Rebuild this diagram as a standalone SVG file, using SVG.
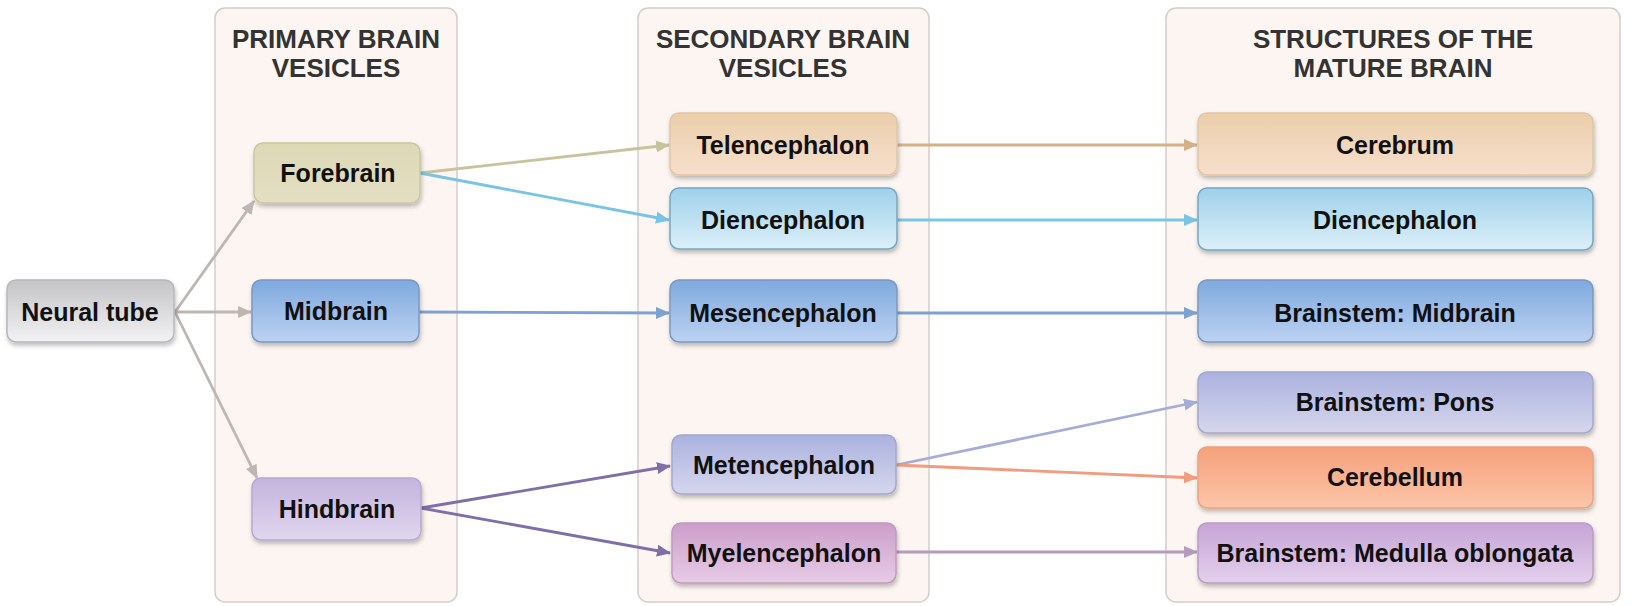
<svg xmlns="http://www.w3.org/2000/svg" width="1643" height="606" viewBox="0 0 1643 606">
<style>
.panel{fill:#fcf5f1;stroke:#d4ceca;stroke-width:1.5}
.title{font-family:"Liberation Sans",Arial,sans-serif;font-weight:bold;font-size:26px;fill:#333;text-anchor:middle}
.lbl{font-family:"Liberation Sans",Arial,sans-serif;font-weight:bold;font-size:25px;fill:#111;text-anchor:middle}
.node rect{stroke-width:1.5;filter:url(#sh)}
.c{fill:none;stroke-width:2.8}
</style>
<defs>
<filter id="sh" x="-10%" y="-20%" width="120%" height="150%"><feDropShadow dx="1" dy="3" stdDeviation="2" flood-color="#000" flood-opacity="0.25"/></filter>
<linearGradient id="gGray" x1="0" y1="0" x2="0" y2="1"><stop offset="0" stop-color="#c4c3c6"/><stop offset="1" stop-color="#f2f2f4"/></linearGradient>
<linearGradient id="gFore" x1="0" y1="0" x2="0" y2="1"><stop offset="0" stop-color="#ddd8b4"/><stop offset="1" stop-color="#e4dfc4"/></linearGradient>
<linearGradient id="gTel" x1="0" y1="0" x2="0" y2="1"><stop offset="0" stop-color="#ebcfac"/><stop offset="1" stop-color="#f6dfcc"/></linearGradient>
<linearGradient id="gDi" x1="0" y1="0" x2="0" y2="1"><stop offset="0" stop-color="#9fd0ea"/><stop offset="1" stop-color="#dcf0f9"/></linearGradient>
<linearGradient id="gMid" x1="0" y1="0" x2="0" y2="1"><stop offset="0" stop-color="#7fa9de"/><stop offset="1" stop-color="#bcd2f2"/></linearGradient>
<linearGradient id="gHind" x1="0" y1="0" x2="0" y2="1"><stop offset="0" stop-color="#c4b4de"/><stop offset="1" stop-color="#e0d6ee"/></linearGradient>
<linearGradient id="gMet" x1="0" y1="0" x2="0" y2="1"><stop offset="0" stop-color="#abb2e0"/><stop offset="1" stop-color="#d6d6ec"/></linearGradient>
<linearGradient id="gCbl" x1="0" y1="0" x2="0" y2="1"><stop offset="0" stop-color="#f5a07c"/><stop offset="1" stop-color="#fcc6a8"/></linearGradient>
<linearGradient id="gMye" x1="0" y1="0" x2="0" y2="1"><stop offset="0" stop-color="#cc9ecb"/><stop offset="1" stop-color="#e8cbe6"/></linearGradient>
<linearGradient id="gMed" x1="0" y1="0" x2="0" y2="1"><stop offset="0" stop-color="#c6a4d6"/><stop offset="1" stop-color="#e4d0ec"/></linearGradient>
<marker id="aGray" viewBox="0 0 14 12" refX="13" refY="6" markerWidth="14" markerHeight="12" markerUnits="userSpaceOnUse" orient="auto"><path d="M0,0 L14,6 L0,12 Z" fill="#bdb6b2"/></marker>
<marker id="aTan" viewBox="0 0 14 12" refX="13" refY="6" markerWidth="14" markerHeight="12" markerUnits="userSpaceOnUse" orient="auto"><path d="M0,0 L14,6 L0,12 Z" fill="#c8c39c"/></marker>
<marker id="aLb" viewBox="0 0 14 12" refX="13" refY="6" markerWidth="14" markerHeight="12" markerUnits="userSpaceOnUse" orient="auto"><path d="M0,0 L14,6 L0,12 Z" fill="#78c4e6"/></marker>
<marker id="aBl" viewBox="0 0 14 12" refX="13" refY="6" markerWidth="14" markerHeight="12" markerUnits="userSpaceOnUse" orient="auto"><path d="M0,0 L14,6 L0,12 Z" fill="#7ba2d2"/></marker>
<marker id="aPu" viewBox="0 0 14 12" refX="13" refY="6" markerWidth="14" markerHeight="12" markerUnits="userSpaceOnUse" orient="auto"><path d="M0,0 L14,6 L0,12 Z" fill="#7e6fa8"/></marker>
<marker id="aTan2" viewBox="0 0 14 12" refX="13" refY="6" markerWidth="14" markerHeight="12" markerUnits="userSpaceOnUse" orient="auto"><path d="M0,0 L14,6 L0,12 Z" fill="#d2b286"/></marker>
<marker id="aLav" viewBox="0 0 14 12" refX="13" refY="6" markerWidth="14" markerHeight="12" markerUnits="userSpaceOnUse" orient="auto"><path d="M0,0 L14,6 L0,12 Z" fill="#a4acd8"/></marker>
<marker id="aSal" viewBox="0 0 14 12" refX="13" refY="6" markerWidth="14" markerHeight="12" markerUnits="userSpaceOnUse" orient="auto"><path d="M0,0 L14,6 L0,12 Z" fill="#f09c7e"/></marker>
<marker id="aMau" viewBox="0 0 14 12" refX="13" refY="6" markerWidth="14" markerHeight="12" markerUnits="userSpaceOnUse" orient="auto"><path d="M0,0 L14,6 L0,12 Z" fill="#b49cc0"/></marker>
</defs>
<rect width="1643" height="606" fill="#ffffff"/>

<g id="panel-primary">
<rect class="panel" x="215" y="8" width="242" height="594" rx="10"/>
<text class="title" x="336" y="48">PRIMARY BRAIN</text>
<text class="title" x="336" y="77">VESICLES</text>
</g>
<g id="panel-secondary">
<rect class="panel" x="638" y="8" width="291" height="594" rx="10"/>
<text class="title" x="783" y="48">SECONDARY BRAIN</text>
<text class="title" x="783" y="77">VESICLES</text>
</g>
<g id="panel-mature">
<rect class="panel" x="1166" y="8" width="454" height="594" rx="10"/>
<text class="title" x="1393" y="48">STRUCTURES OF THE</text>
<text class="title" x="1393" y="77">MATURE BRAIN</text>
</g>

<g id="connectors">
<line class="c" x1="175" y1="312" x2="254" y2="201" stroke="#bdb6b2" marker-end="url(#aGray)"/>
<line class="c" x1="175" y1="312" x2="251" y2="312" stroke="#bdb6b2" marker-end="url(#aGray)"/>
<line class="c" x1="175" y1="312" x2="257" y2="478" stroke="#bdb6b2" marker-end="url(#aGray)"/>
<line class="c" x1="420" y1="173" x2="669" y2="145" stroke="#c8c39c" marker-end="url(#aTan)"/>
<line class="c" x1="420" y1="173" x2="669" y2="220" stroke="#78c4e6" marker-end="url(#aLb)"/>
<line class="c" x1="419" y1="312" x2="669" y2="313" stroke="#7ba2d2" marker-end="url(#aBl)"/>
<line class="c" x1="421" y1="508" x2="670" y2="466" stroke="#7e6fa8" marker-end="url(#aPu)"/>
<line class="c" x1="421" y1="508" x2="670" y2="553" stroke="#7e6fa8" marker-end="url(#aPu)"/>
<line class="c" x1="897" y1="145" x2="1197" y2="145" stroke="#d2b286" marker-end="url(#aTan2)"/>
<line class="c" x1="897" y1="220" x2="1197" y2="220" stroke="#78c8e2" marker-end="url(#aLb)"/>
<line class="c" x1="897" y1="313" x2="1197" y2="313" stroke="#7ba2d2" marker-end="url(#aBl)"/>
<line class="c" x1="896" y1="465" x2="1197" y2="402" stroke="#a4acd8" marker-end="url(#aLav)"/>
<line class="c" x1="896" y1="465" x2="1197" y2="478" stroke="#f09c7e" marker-end="url(#aSal)"/>
<line class="c" x1="896" y1="552" x2="1197" y2="552" stroke="#b49cc0" marker-end="url(#aMau)"/>
</g>

<g id="n-neural-tube" class="node">
<rect x="7" y="280" width="167" height="62" rx="9" fill="url(#gGray)" stroke="#b8b6ba"/>
<text class="lbl" x="90" y="321">Neural tube</text>
</g>
<g id="n-forebrain" class="node">
<rect x="254" y="143" width="166" height="60" rx="9" fill="url(#gFore)" stroke="#ccc6a2"/>
<text class="lbl" x="338" y="182">Forebrain</text>
</g>
<g id="n-midbrain" class="node">
<rect x="252" y="280" width="167" height="62" rx="9" fill="url(#gMid)" stroke="#7a98c4"/>
<text class="lbl" x="336" y="320">Midbrain</text>
</g>
<g id="n-hindbrain" class="node">
<rect x="252" y="478" width="169" height="62" rx="9" fill="url(#gHind)" stroke="#b8a8d2"/>
<text class="lbl" x="337" y="518">Hindbrain</text>
</g>

<g id="n-telencephalon" class="node">
<rect x="670" y="113" width="227" height="62" rx="9" fill="url(#gTel)" stroke="#e2c6a4"/>
<text class="lbl" x="783" y="154">Telencephalon</text>
</g>
<g id="n-diencephalon-2" class="node">
<rect x="670" y="188" width="227" height="61" rx="9" fill="url(#gDi)" stroke="#72a8c6"/>
<text class="lbl" x="783" y="229">Diencephalon</text>
</g>
<g id="n-mesencephalon" class="node">
<rect x="670" y="280" width="227" height="62" rx="9" fill="url(#gMid)" stroke="#7a98c4"/>
<text class="lbl" x="783" y="322">Mesencephalon</text>
</g>
<g id="n-metencephalon" class="node">
<rect x="672" y="435" width="224" height="59" rx="9" fill="url(#gMet)" stroke="#a4a8cc"/>
<text class="lbl" x="784" y="474">Metencephalon</text>
</g>
<g id="n-myelencephalon" class="node">
<rect x="672" y="523" width="224" height="60" rx="9" fill="url(#gMye)" stroke="#c09abd"/>
<text class="lbl" x="784" y="562">Myelencephalon</text>
</g>

<g id="n-cerebrum" class="node">
<rect x="1198" y="113" width="395" height="62" rx="9" fill="url(#gTel)" stroke="#e2c6a4"/>
<text class="lbl" x="1395" y="154">Cerebrum</text>
</g>
<g id="n-diencephalon-3" class="node">
<rect x="1198" y="188" width="395" height="62" rx="9" fill="url(#gDi)" stroke="#72a8c6"/>
<text class="lbl" x="1395" y="229">Diencephalon</text>
</g>
<g id="n-brainstem-midbrain" class="node">
<rect x="1198" y="280" width="395" height="62" rx="9" fill="url(#gMid)" stroke="#7a98c4"/>
<text class="lbl" x="1395" y="322">Brainstem: Midbrain</text>
</g>
<g id="n-pons" class="node">
<rect x="1198" y="372" width="395" height="61" rx="9" fill="url(#gMet)" stroke="#a4a8cc"/>
<text class="lbl" x="1395" y="411">Brainstem: Pons</text>
</g>
<g id="n-cerebellum" class="node">
<rect x="1198" y="447" width="395" height="61" rx="9" fill="url(#gCbl)" stroke="#eea080"/>
<text class="lbl" x="1395" y="486">Cerebellum</text>
</g>
<g id="n-medulla" class="node">
<rect x="1198" y="523" width="395" height="60" rx="9" fill="url(#gMed)" stroke="#b89cc8"/>
<text class="lbl" x="1395" y="562">Brainstem: Medulla oblongata</text>
</g>
</svg>
